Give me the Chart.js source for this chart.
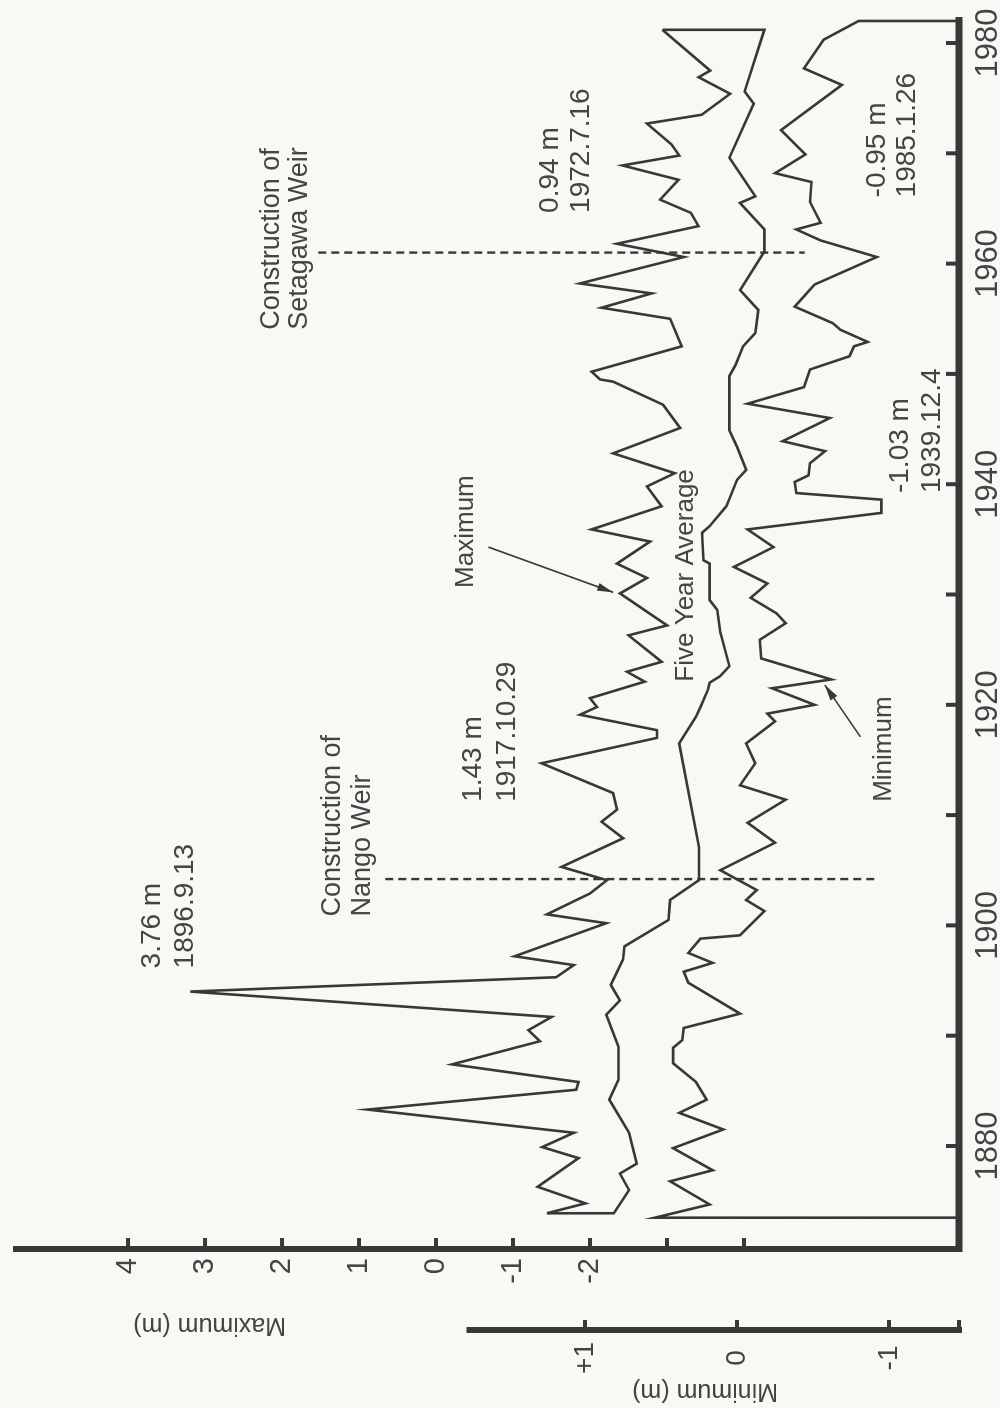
<!DOCTYPE html>
<html>
<head>
  <title>Water Level: Annual Maximum and Minimum</title>
  <script src="https://cdn.jsdelivr.net/npm/chart.js"></script>
  <style>
    html, body { margin: 0; padding: 0; background: #f6f9f4; }
    #wrap { position: relative; width: 1000px; height: 1408px; overflow: hidden; }
    /* the chart is drawn in landscape and turned a quarter turn to the left */
    #levelChart { position: absolute; left: 0; top: 0; transform-origin: 0 0; transform: translate(0px, 1408px) rotate(-90deg); }
  </style>
</head>
<body>
  <div id="wrap"><canvas id="levelChart" width="1408" height="1000"></canvas></div>

  <script>
    // annual maximum (m, left inner axis)
    const maxYears = [1873.9, 1874.8, 1876.3, 1878.9, 1879.9, 1881.2, 1883.3, 1885.1, 1885.8, 1887.4,
      1889.5, 1890.5, 1891.7, 1894.0, 1895.3, 1896.4, 1897.2, 1900.2, 1901.0, 1902.9,
      1904.1, 1905.3, 1907.9, 1909.4, 1910.5, 1912.0, 1914.7, 1917.0, 1917.7, 1919.1,
      1919.8, 1920.6, 1922.1, 1923.0, 1923.9, 1926.3, 1927.2, 1930.1, 1931.5, 1932.8,
      1934.8, 1935.9, 1938.0, 1939.8, 1941.0, 1942.8, 1945.1, 1947.2, 1949.3, 1949.5,
      1950.2, 1952.5, 1955.0, 1956.0, 1957.3, 1958.2, 1960.6, 1961.8, 1963.4, 1964.6,
      1965.8, 1967.6, 1968.9, 1969.8, 1970.8, 1972.7, 1973.5, 1975.4, 1976.9, 1977.5,
      1981.2];
    const maxValues = [-1.44, -1.94, -1.32, -1.85, -1.38, -1.79, 0.89, -1.82, -1.85, -0.21,
      -1.35, -1.20, -1.50, 3.19, -1.56, -1.79, -1.02, -2.21, -1.44, -2.00,
      -2.22, -1.63, -2.43, -2.15, -2.35, -2.30, -1.37, -2.87, -2.87, -1.87,
      -2.09, -2.00, -2.71, -2.48, -2.93, -2.50, -3.00, -2.39, -2.74, -2.35,
      -2.78, -2.02, -2.93, -2.74, -3.10, -2.30, -3.17, -2.95, -2.30, -2.13,
      -2.02, -3.19, -3.04, -2.15, -2.80, -1.87, -3.22, -2.35, -3.41, -3.31,
      -2.91, -3.15, -2.42, -3.16, -3.06, -2.74, -3.45, -3.82, -3.41, -3.56,
      -2.94];

    // five year average (m, minimum axis); first and last points join the maximum curve
    const avgYears = [1873.9, 1873.9, 1876.0, 1877.5, 1878.4, 1881.2, 1884.2, 1886.0, 1889.0, 1891.9,
      1893.2, 1894.6, 1896.9, 1898.1, 1900.5, 1902.3, 1904.1, 1907.1, 1916.5, 1918.9,
      1919.8, 1921.4, 1922.0, 1922.6, 1923.5, 1926.6, 1928.6, 1929.5, 1932.8, 1933.1,
      1935.6, 1936.2, 1938.0, 1940.4, 1941.3, 1943.4, 1944.9, 1949.8, 1950.8, 1952.5,
      1953.7, 1955.8, 1957.6, 1961.1, 1963.1, 1965.5, 1966.1, 1969.6, 1974.5, 1975.6,
      1981.2, 1981.2];
    const avgValues = [1.25, 0.81, 0.71, 0.77, 0.66, 0.71, 0.84, 0.78, 0.78, 0.86,
      0.77, 0.83, 0.75, 0.74, 0.45, 0.44, 0.25, 0.25, 0.38, 0.27,
      0.24, 0.19, 0.18, 0.11, 0.05, 0.11, 0.13, 0.18, 0.18, 0.22,
      0.23, 0.18, 0.07, 0.00, -0.06, 0.00, 0.05, 0.05, 0.01, -0.04,
      -0.12, -0.14, -0.02, -0.18, -0.18, -0.02, -0.12, 0.05, -0.11, -0.05,
      -0.18, 0.49];

    // annual minimum (m, outer axis); both ends drop to the year axis
    const minYears = [1873.5, 1873.5, 1874.7, 1876.8, 1877.8, 1879.8, 1881.5, 1883.0, 1884.2, 1885.8,
      1887.5, 1888.9, 1889.6, 1890.7, 1892.0, 1894.8, 1895.8, 1896.6, 1897.5, 1898.8,
      1899.1, 1901.3, 1902.3, 1903.2, 1905.0, 1907.5, 1909.3, 1911.4, 1912.7, 1914.7,
      1916.5, 1918.5, 1919.2, 1920.0, 1921.5, 1922.3, 1924.2, 1925.9, 1927.4, 1928.3,
      1929.7, 1931.0, 1932.5, 1934.3, 1935.9, 1937.4, 1938.6, 1939.2, 1940.2, 1940.8,
      1941.9, 1943.0, 1943.9, 1946.0, 1947.3, 1948.8, 1950.4, 1951.6, 1952.5, 1952.9,
      1954.0, 1954.6, 1956.1, 1958.1, 1960.6, 1962.1, 1963.1, 1963.7, 1965.6, 1967.4,
      1968.2, 1969.9, 1972.1, 1976.2, 1977.7, 1980.3, 1982.0, 1982.0];
    const minValues = [-1.46, 0.54, 0.18, 0.44, 0.16, 0.42, 0.09, 0.38, 0.20, 0.27,
      0.42, 0.42, 0.36, 0.35, -0.02, 0.32, 0.35, 0.16, 0.32, 0.24,
      -0.02, -0.18, -0.06, -0.13, 0.11, -0.25, -0.07, -0.32, -0.02, -0.12,
      -0.06, -0.25, -0.20, -0.51, -0.23, -0.62, -0.16, -0.15, -0.32, -0.26,
      -0.09, -0.20, 0.02, -0.24, -0.07, -0.95, -0.95, -0.39, -0.38, -0.47,
      -0.48, -0.58, -0.30, -0.61, -0.07, -0.44, -0.48, -0.74, -0.77, -0.86,
      -0.68, -0.63, -0.38, -0.51, -0.92, -0.55, -0.39, -0.55, -0.48, -0.49,
      -0.25, -0.45, -0.29, -0.69, -0.44, -0.57, -0.80, -1.46];

    // weir construction markers (year, extent on the maximum axis)
    const weirYears = [1904.2, 1961.0];
    const weirTops = [0.66, 1.53];
    const weirBottoms = [-5.73, -4.79];

    // axes
    const yearTicks = [1880, 1890, 1900, 1910, 1920, 1930, 1940, 1950, 1960, 1970, 1980];
    const maxTicks = [4, 3, 2, 1, 0, -1, -2, -3, -4];
    const maxTickLabels = ['4', '3', '2', '1', '0', '-1', '-2', '', ''];
    const minTicks = [1, 0, -1];
    const minTickLabels = ['+1', '0', '-1'];
    const minAxisTop = 1.78;

    const notes = [
      { text: '3.76 m', year: 1896.1, val: 3.69, size: 28 },
      { text: '1896.9.13', year: 1896.1, val: 3.26, size: 28 },
      { text: 'Construction of', year: 1900.8, val: 1.34, size: 27 },
      { text: 'Nango Weir', year: 1900.8, val: 0.96, size: 27 },
      { text: '1.43 m', year: 1911.2, val: -0.49, size: 28 },
      { text: '1917.10.29', year: 1911.2, val: -0.92, size: 28 },
      { text: 'Maximum', year: 1930.6, val: -0.39, size: 26 },
      { text: 'Five Year Average', year: 1922.1, val: -3.24, size: 26 },
      { text: 'Minimum', year: 1911.2, val: -5.82, size: 26 },
      { text: '-1.03 m', year: 1939.2, val: -6.03, size: 28 },
      { text: '1939.12.4', year: 1939.2, val: -6.45, size: 28 },
      { text: 'Construction of', year: 1954.0, val: 2.14, size: 27 },
      { text: 'Setagawa Weir', year: 1954.0, val: 1.77, size: 27 },
      { text: '0.94 m', year: 1964.6, val: -1.48, size: 28 },
      { text: '1972.7.16', year: 1964.6, val: -1.88, size: 28 },
      { text: '-0.95 m', year: 1966.0, val: -5.73, size: 28 },
      { text: '1985.1.26', year: 1966.0, val: -6.12, size: 28 }
    ];
    const arrows = [
      { from: [1934.3, -0.68], to: [1930.2, -2.30] },
      { from: [1917.1, -5.51], to: [1921.8, -5.05] }
    ];

    const ink = '#383838';
    const textInk = '#444444';
    const family = '"Liberation Sans", Arial, sans-serif';

    function toPoints(xs, ys) {
      return xs.map((x, i) => ({ x: x, y: ys[i] }));
    }

    function seg(ctx, x0, y0, x1, y1) {
      ctx.beginPath();
      ctx.moveTo(x0, y0);
      ctx.lineTo(x1, y1);
      ctx.stroke();
    }

    function arrowTo(ctx, x0, y0, x1, y1) {
      seg(ctx, x0, y0, x1, y1);
      const a = Math.atan2(y1 - y0, x1 - x0);
      const c = Math.cos(a), s = Math.sin(a);
      ctx.beginPath();
      ctx.moveTo(x1, y1);
      ctx.lineTo(x1 - 16 * c + 4 * s, y1 - 16 * s - 4 * c);
      ctx.lineTo(x1 - 16 * c - 4 * s, y1 - 16 * s + 4 * c);
      ctx.closePath();
      ctx.fill();
    }

    // axis lines with inward ticks, axis titles and the text notes
    const frame = {
      id: 'frame',
      afterDraw(chart) {
        const { ctx, chartArea: a } = chart;
        const { x, yMax, yMin } = chart.scales;
        ctx.save();
        ctx.strokeStyle = ink;
        ctx.fillStyle = ink;

        ctx.lineWidth = 7;
        seg(ctx, a.left - 3, a.bottom, a.right, a.bottom);
        ctx.lineWidth = 4;
        yearTicks.forEach(t => {
          const p = x.getPixelForValue(t);
          seg(ctx, p, a.bottom, p, a.bottom - 13);
        });

        ctx.lineWidth = 6;
        seg(ctx, a.left, a.top, a.left, a.bottom + 3);
        ctx.lineWidth = 4;
        maxTicks.forEach(t => {
          const p = yMax.getPixelForValue(t);
          seg(ctx, a.left, p, a.left + 11, p);
        });

        const mx = yMin.right;
        ctx.lineWidth = 6;
        seg(ctx, mx, yMin.getPixelForValue(minAxisTop), mx, a.bottom + 3);
        ctx.lineWidth = 4;
        minTicks.concat([yMin.min]).forEach(t => {
          const p = Math.min(yMin.getPixelForValue(t), a.bottom + 2);
          seg(ctx, mx, p, mx + 10, p);
        });

        ctx.lineWidth = 1.6;
        arrows.forEach(ar => {
          arrowTo(ctx, x.getPixelForValue(ar.from[0]), yMax.getPixelForValue(ar.from[1]),
            x.getPixelForValue(ar.to[0]), yMax.getPixelForValue(ar.to[1]));
        });

        ctx.fillStyle = textInk;
        ctx.textBaseline = 'middle';
        ctx.textAlign = 'left';
        notes.forEach(n => {
          ctx.font = n.size + 'px ' + family;
          ctx.fillText(n.text, x.getPixelForValue(n.year), yMax.getPixelForValue(n.val));
        });

        ctx.font = '25px ' + family;
        ctx.textAlign = 'center';
        ctx.save();
        ctx.translate(yMax.left + 5, yMax.getPixelForValue(2.94));
        ctx.rotate(-Math.PI / 2);
        ctx.fillText('Maximum (m)', 0, 0);
        ctx.restore();
        ctx.save();
        ctx.translate(yMin.left + 17, yMin.getPixelForValue(0.21));
        ctx.rotate(-Math.PI / 2);
        ctx.fillText('Minimum (m)', 0, 0);
        ctx.restore();

        ctx.restore();
      }
    };

    const lineStyle = { borderColor: ink, borderWidth: 2.6, pointRadius: 0, tension: 0, fill: false };

    const weirSets = weirYears.map((yr, i) => ({
      label: 'Weir ' + (i + 1),
      data: [{ x: yr, y: weirTops[i] }, { x: yr, y: weirBottoms[i] }],
      yAxisID: 'yMax',
      borderColor: ink,
      borderWidth: 2.4,
      borderDash: [8, 5],
      pointRadius: 0,
      fill: false
    }));

    const levelCtx = document.getElementById('levelChart').getContext('2d');
    new Chart(levelCtx, {
      type: 'line',
      data: {
        datasets: [
          Object.assign({ label: 'Maximum', data: toPoints(maxYears, maxValues), yAxisID: 'yMax' }, lineStyle),
          Object.assign({ label: 'Five Year Average', data: toPoints(avgYears, avgValues), yAxisID: 'yMin' }, lineStyle),
          Object.assign({ label: 'Minimum', data: toPoints(minYears, minValues), yAxisID: 'yMin' }, lineStyle)
        ].concat(weirSets)
      },
      options: {
        responsive: false,
        animation: false,
        layout: { padding: { top: 13, right: 17, bottom: 0, left: 0 } },
        plugins: { legend: { display: false }, tooltip: { enabled: false } },
        scales: {
          x: {
            type: 'linear',
            position: 'bottom',
            min: 1870.66,
            max: 1982.36,
            bounds: 'data',
            grid: { display: false, drawTicks: false },
            border: { display: false },
            ticks: {
              autoSkip: false,
              maxRotation: 0,
              padding: 11,
              color: textInk,
              font: { family: family, size: 31 },
              callback: v => (v % 20 === 0 ? String(v) : '')
            },
            afterBuildTicks: s => { s.ticks = yearTicks.map(v => ({ value: v })); },
            afterFit: s => { s.height = 41; s.paddingLeft = 0; s.paddingRight = 0; }
          },
          yMax: {
            type: 'linear',
            position: 'left',
            weight: 0,
            min: -6.792,
            max: 5.494,
            bounds: 'data',
            grid: { display: false, drawTicks: false },
            border: { display: false },
            ticks: {
              autoSkip: false,
              padding: 9,
              color: textInk,
              font: { family: family, size: 29 },
              callback: (v, i) => maxTickLabels[i]
            },
            afterBuildTicks: s => { s.ticks = maxTicks.map(v => ({ value: v })); },
            afterFit: s => { s.width = 81; s.paddingTop = 0; s.paddingBottom = 0; }
          },
          yMin: {
            type: 'linear',
            position: 'left',
            weight: 1,
            min: -1.4605,
            max: 4.763,
            bounds: 'data',
            grid: { display: false, drawTicks: false },
            border: { display: false },
            ticks: {
              autoSkip: false,
              crossAlign: 'center',
              padding: 12,
              color: textInk,
              font: { family: family, size: 28 },
              callback: (v, i) => minTickLabels[i]
            },
            afterBuildTicks: s => { s.ticks = minTicks.map(v => ({ value: v })); },
            afterFit: s => { s.width = 78; s.paddingTop = 0; s.paddingBottom = 0; }
          }
        }
      },
      plugins: [frame]
    });
  </script>
</body>
</html>
